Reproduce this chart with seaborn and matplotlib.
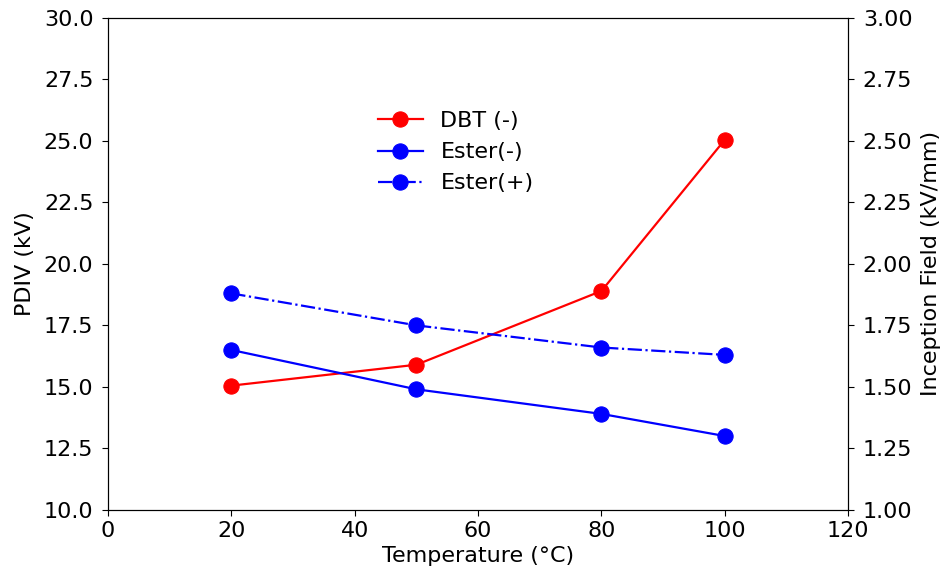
import matplotlib
matplotlib.use("Agg")
import matplotlib.pyplot as plt
import seaborn as sns
import pandas as pd

temperature = [20, 50, 80, 100]
dbt_neg = [15.05, 15.9, 18.9, 25.05]
ester_neg = [16.5, 14.9, 13.9, 13.0]
ester_pos = [18.8, 17.5, 16.6, 16.3]

plt.rcParams["font.size"] = 16
plt.rcParams["font.family"] = ["DejaVu Sans"]
plt.rcParams["ytick.major.pad"] = 6
plt.rcParams["ytick.major.size"] = 4.5
plt.rcParams["xtick.major.size"] = 4.5

fig = plt.figure(figsize=(9.43, 5.8), dpi=100)
ax = fig.add_axes([0.1145, 0.121, 0.785, 0.848])

series = [
    ("DBT (-)", dbt_neg, "red", "-"),
    ("Ester(-)", ester_neg, "blue", "-"),
    ("Ester(+)", ester_pos, "blue", "-."),
]
for name, vals, col, ls in series:
    df = pd.DataFrame({"T": temperature, "v": vals})
    sns.lineplot(data=df, x="T", y="v", ax=ax, color=col, linestyle=ls,
                 marker="o", markersize=11, markeredgecolor=col,
                 linewidth=1.6, label=name)

ax.set_xlim(0, 120)
ax.set_ylim(10, 30)
ax.set_xticks([0, 20, 40, 60, 80, 100, 120])
ax.set_yticks([10, 12.5, 15, 17.5, 20, 22.5, 25, 27.5, 30])
ax.set_yticklabels([f"{v:.1f}" for v in [10, 12.5, 15, 17.5, 20, 22.5, 25, 27.5, 30]])
ax.set_xlabel("Temperature (°C)")
ax.set_ylabel("PDIV (kV)", labelpad=6)

ax2 = ax.twinx()
ax2.set_ylim(1.0, 3.0)
ticks2 = [1.0, 1.25, 1.5, 1.75, 2.0, 2.25, 2.5, 2.75, 3.0]
ax2.set_yticks(ticks2)
ax2.set_yticklabels([f"{v:.2f}" for v in ticks2])
ax2.set_ylabel("Inception Field (kV/mm)", labelpad=6)

ax.legend(loc="upper left", bbox_to_anchor=(0.338, 0.851), frameon=False,
          handlelength=2.0)

fig.savefig("out.png", dpi=100)
